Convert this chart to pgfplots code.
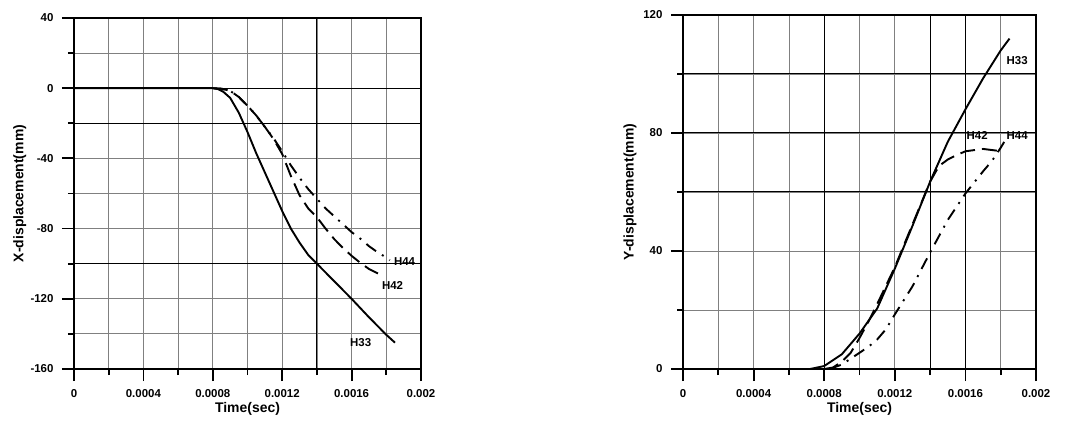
\documentclass[border=0pt]{standalone}
\usepackage{fontspec}
\setmainfont{Liberation Sans}
\usepackage{pgfplots}
\pgfplotsset{compat=1.18}
\tikzset{lbl/.style={font=\fontsize{11.5}{12}\selectfont\bfseries, inner sep=0pt}}
\begin{document}
\begin{tikzpicture}
\path[use as bounding box] (0bp,0bp) rectangle (1065bp,432bp);
\pgfplotsset{
 common/.style={
  scale only axis,
  anchor=south west,
  xmin=0,xmax=0.002,
  scaled x ticks=false,
  xtick={0,0.0004,0.0008,0.0012,0.0016,0.002},
  xticklabels={0,0.0004,0.0008,0.0012,0.0016,0.002},
  minor x tick num=1,
  minor y tick num=1,
  xtick pos=left, ytick pos=left,
  tick align=outside,
  major tick length=12bp, minor tick length=6bp,
  every tick/.style={black, line width=1.8bp},
  grid=both,
  major grid style={black!50, line width=0.8bp},
  minor grid style={black!50, line width=0.8bp},
  axis line style={line width=2bp},
  tick label style={font=\fontsize{11.5}{12}\selectfont\bfseries},
  label style={font=\fontsize{14}{15}\selectfont\bfseries},
  xlabel={Time(sec)},
  xlabel style={at={(axis description cs:0.5,0)}, anchor=center, yshift=-40bp},
  xticklabel style={anchor=center, yshift=-13bp},
  yticklabel style={xshift=-5bp},
  every axis plot/.append style={line width=1.9bp, black},
  extra tick style={grid=major, major grid style={black, line width=1bp}, major tick length=0bp},
 },
}
% ---------- left axis ----------
\begin{axis}[common,
  at={(74bp,63bp)}, width=347bp, height=351bp,
  ymin=-160, ymax=40,
  ytick={-160,-120,-80,-40,0,40},
  yticklabels={-160,-120,-80,-40,0,40},
  ylabel={X-displacement(mm)},
  ylabel style={at={(axis description cs:-0.156,0.5)}, anchor=center},
  extra x ticks={0.0014}, extra x tick labels={},
  extra y ticks={0,-20,-100}, extra y tick labels={},
]
\addplot[solid] coordinates {
(0,0) (0.0008,0) (0.00083,-0.5) (0.00086,-2) (0.0009,-5.5) (0.00095,-14) (0.001,-25)
(0.00105,-37) (0.0011,-48) (0.00115,-59) (0.0012,-70) (0.00125,-80) (0.0013,-88)
(0.00135,-95) (0.0014,-100) (0.0015,-110) (0.0016,-120) (0.0017,-130.5) (0.0018,-140.5) (0.00185,-145)};
\addplot[dash pattern=on 15bp off 7bp] coordinates {
(0.0008,0) (0.00085,-0.3) (0.0009,-1.5) (0.00095,-5) (0.001,-10) (0.00105,-15.5) (0.0011,-22)
(0.00115,-29) (0.0012,-37.5) (0.00125,-50) (0.0013,-61) (0.00135,-68.5) (0.0014,-73.5)
(0.00145,-80) (0.0015,-86) (0.00155,-91) (0.0016,-95.5) (0.00165,-99.5) (0.0017,-103) (0.00177,-106.5)};
\addplot[dash pattern=on 12bp off 7bp on 2bp off 7bp] coordinates {
(0.0008,0) (0.00085,-0.3) (0.0009,-1.5) (0.00095,-5) (0.001,-10) (0.00105,-15.5) (0.0011,-22)
(0.00115,-28.5) (0.0012,-36) (0.00125,-44) (0.0013,-51) (0.00135,-57.5) (0.0014,-63)
(0.00145,-68.5) (0.0015,-73) (0.00155,-77.5) (0.0016,-82) (0.00165,-85.7) (0.0017,-90)
(0.00175,-93.5) (0.0018,-96.5) (0.00182,-98)};
\node[lbl] at (axis cs:0.001652,-145.2) {H33};
\node[lbl] at (axis cs:0.001836,-112.7) {H42};
\node[lbl] at (axis cs:0.001905,-99) {H44};
\end{axis}
% ---------- right axis ----------
\begin{axis}[common,
  at={(683bp,63bp)}, width=353bp, height=354bp,
  ymin=0, ymax=120,
  ytick={0,40,80,120},
  yticklabels={0,40,80,120},
  ylabel={Y-displacement(mm)},
  ylabel style={at={(axis description cs:-0.150,0.5)}, anchor=center},
  extra x ticks={0.0008,0.0014,0.0016}, extra x tick labels={},
  extra y ticks={60,80,100}, extra y tick labels={},
]
\addplot[solid] coordinates {
(0,0) (0.00072,0) (0.0008,1) (0.0009,5) (0.001,12) (0.0011,20.5) (0.0012,34) (0.0013,48.5)
(0.0014,63.5) (0.0015,77) (0.0016,88) (0.0017,98.5) (0.0018,108) (0.00185,112)};
\addplot[dash pattern=on 15bp off 7bp] coordinates {
(0.0008,0) (0.00085,0.5) (0.0009,2.5) (0.00095,5.5) (0.001,10.5) (0.00105,16) (0.0011,22)
(0.0012,34.5) (0.0013,49) (0.0014,63.5) (0.00145,68.8) (0.0015,71) (0.00155,72.5)
(0.0016,73.8) (0.0017,74.6) (0.00178,74)};
\addplot[dash pattern=on 12bp off 7bp on 2bp off 7bp] coordinates {
(0.00083,0) (0.0009,1.5) (0.00095,3.5) (0.001,5.5) (0.00105,7.5) (0.0011,10) (0.00115,13.5)
(0.0012,18.5) (0.0013,28) (0.0014,39.5) (0.0015,50.5) (0.0016,59.5) (0.0017,67)
(0.00175,70.5) (0.0018,75) (0.00182,77)};
\node[lbl] at (axis cs:0.001893,104.7) {H33};
\node[lbl] at (axis cs:0.001667,79) {H42};
\node[lbl] at (axis cs:0.001893,79.3) {H44};
\end{axis}
\end{tikzpicture}
\end{document}
